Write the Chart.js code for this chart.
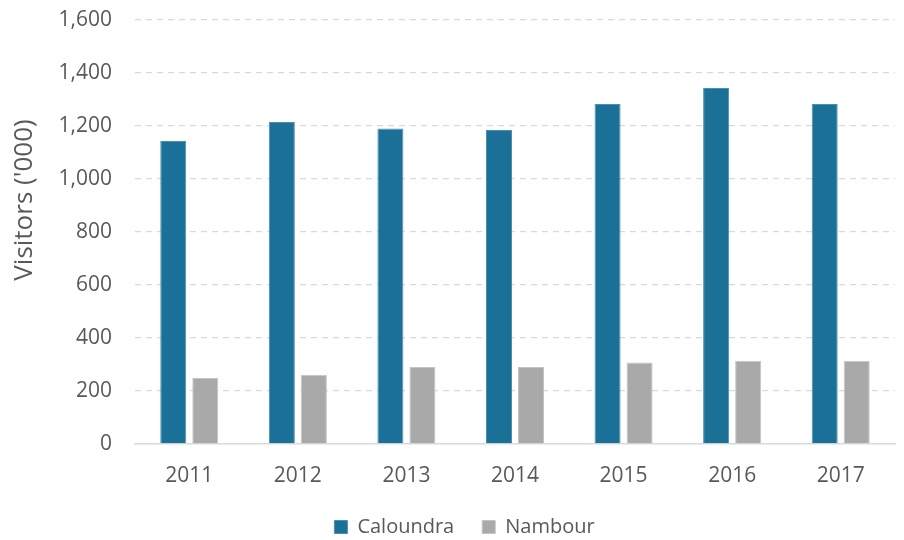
<!DOCTYPE html>
<html>
<head>
<meta charset="utf-8">
<script src="https://cdn.jsdelivr.net/npm/chart.js@4.4.0/dist/chart.umd.min.js"></script>
<style>
  html, body { margin: 0; padding: 0; background: #ffffff; }
  #wrap { width: 904px; height: 540px; position: relative; }
</style>
</head>
<body>
<div id="wrap"><canvas id="c" width="904" height="540"></canvas></div>
<script>
const categories = ['2011', '2012', '2013', '2014', '2015', '2016', '2017'];
const caloundra = [1143, 1215, 1191, 1185, 1283, 1343, 1283];
const nambour = [249, 261, 291, 291, 308, 314, 314];
const seriesNames = ['Caloundra', 'Nambour'];
const yTicks = [0, 200, 400, 600, 800, 1000, 1200, 1400, 1600];
const yTitle = "Visitors ('000)";

const textColor = '#595959';
const fontFamily = '"Open Sans", "Liberation Sans", sans-serif';

const layoutTweaks = {
  id: 'layoutTweaks',
  afterLayout(chart) {
    if (chart.legend) { chart.legend.left += 17; chart.legend.right += 17; }
  },
  afterDraw(chart) {
    const ctx = chart.ctx;
    ctx.save();
    ctx.translate(25, 200);
    ctx.rotate(-Math.PI / 2);
    ctx.fillStyle = textColor;
    ctx.font = '26px ' + fontFamily;
    ctx.textAlign = 'center';
    ctx.textBaseline = 'middle';
    ctx.fillText(yTitle, 0, 0);
    ctx.restore();
  }
};

new Chart(document.getElementById('c'), {
  type: 'bar',
  data: {
    labels: categories,
    datasets: [
      { label: seriesNames[0], data: caloundra, backgroundColor: '#1a7096', borderColor: '#4a8fb0', borderWidth: 1, categoryPercentage: 0.59, barPercentage: 0.8125 },
      { label: seriesNames[1], data: nambour, backgroundColor: '#a9a9aa', borderColor: '#c4c4c5', borderWidth: 1, categoryPercentage: 0.59, barPercentage: 0.8125 }
    ]
  },
  plugins: [layoutTweaks],
  options: {
    responsive: false,
    animation: false,
    layout: { padding: { top: 0, right: 9, left: 0, bottom: -7 } },
    plugins: {
      legend: {
        position: 'bottom',
        labels: {
          color: textColor,
          font: { family: fontFamily, size: 20 },
          boxWidth: 13,
          boxHeight: 13,
          padding: 28
        }
      },
      tooltip: { enabled: false }
    },
    scales: {
      x: {
        grid: { display: false },
        border: { display: true, color: '#d9d9d9', width: 1.5 },
        ticks: { color: textColor, font: { family: fontFamily, size: 21 }, padding: 11 },
        afterFit(scale) { scale.height = 45; }
      },
      y: {
        min: 0,
        max: 1600,
        afterBuildTicks(scale) { scale.ticks = yTicks.map(v => ({ value: v })); },
        grid: {
          color: ctx => (ctx.tick && ctx.tick.value === 0) ? 'rgba(0,0,0,0)' : '#d9d9d9',
          lineWidth: 1.3,
          drawTicks: false
        },
        border: { display: false, dash: [6, 5] },
        ticks: {
          color: textColor,
          font: { family: fontFamily, size: 21 },
          padding: 23,
          callback: v => v.toLocaleString('en-US')
        },
        title: { display: false },
        afterFit(scale) { scale.width = 135; scale.paddingTop = 20; }
      }
    }
  }
});
</script>
</body>
</html>
